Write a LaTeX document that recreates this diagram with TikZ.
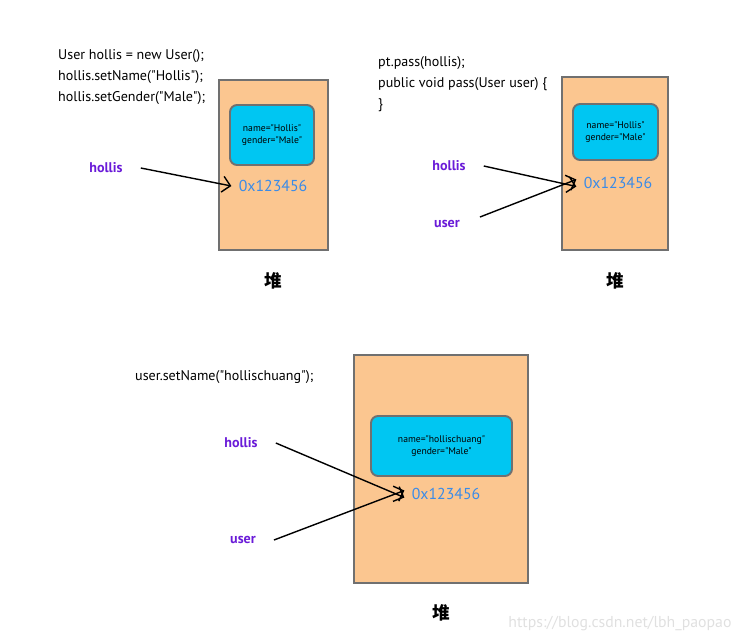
\documentclass[tikz,border=0pt]{standalone}
\usepackage{fontspec}
\setmainfont{PT Sans}[Ligatures=TeXOff]
\newfontfamily\cjk{Noto Sans CJK SC}
\usepackage{xcolor}
\usetikzlibrary{arrows.meta, positioning}

\definecolor{heapfill}{HTML}{FBC690}
\definecolor{objfill}{HTML}{00C6F2}
\definecolor{edgegray}{HTML}{707070}
\definecolor{addrblue}{HTML}{3A8BE8}
\definecolor{refpurple}{HTML}{6A1BD8}

\begin{document}
\begin{tikzpicture}[
    x=0.02cm, y=-0.02cm,
    heapbox/.style={rectangle, draw=edgegray, fill=heapfill, line width=1.1pt},
    objbox/.style={rectangle, draw=edgegray, fill=objfill, line width=1.1pt, rounded corners=4pt, align=center, font=\fontsize{5.5}{7}\selectfont, inner sep=0pt},
    codetext/.style={anchor=west, align=left, font=\fontsize{8}{11.9}\selectfont},
    addr/.style={text=addrblue, font=\fontsize{9}{10}\selectfont, inner sep=1pt},
    refname/.style={text=refpurple, font=\fontsize{8}{10}\selectfont\bfseries},
    heaplabel/.style={font=\cjk\bfseries\fontsize{10}{12}\selectfont},
    arrow/.style={-{Straight Barb[length=1.6mm]}, line width=0.8pt},
]
\useasboundingbox (0,0) rectangle (751,642);

% first step
\node[codetext] (codeA) at (52,77) {User hollis = new User();\\hollis.setName("Hollis");\\hollis.setGender("Male");};
\node[heapbox, minimum width=2.18cm, minimum height=3.4cm] (heapA) at (273.5,165) {};
\node[objbox, minimum width=1.68cm, minimum height=1.2cm] (objA) at (272,135) {name="Hollis"\\gender="Male"};
\node[addr] (addrA) at (273,186) {0x123456};
\node[refname] (hollisA) at (106,168) {hollis};
\node[heaplabel, below=0.3cm of heapA] (heapnameA) {堆};
\draw[arrow] (hollisA.east) ++(12,0) -- ([xshift=-3pt]addrA.west);

% second step
\node[codetext] (codeB) at (372,84) {pt.pass(hollis);\\public void pass(User user) \{\\\}};
\node[heapbox, minimum width=2.12cm, minimum height=3.46cm] (heapB) at (615,163.5) {};
\node[objbox, minimum width=1.7cm, minimum height=1.12cm] (objB) at (615.5,132) {name="Hollis"\\gender="Male"};
\node[addr] (addrB) at (618,183) {0x123456};
\node[refname] (hollisB) at (449,166) {hollis};
\node[refname] (userB) at (447,224) {user};
\node[heaplabel, below=0.3cm of heapB] (heapnameB) {堆};
\draw[arrow] (hollisB.east) ++(12,0) -- ([xshift=-3pt,yshift=-2pt]addrB.west);
\draw[arrow] (userB.east) ++(14,-7) -- ([xshift=-3pt,yshift=2pt]addrB.west);

% third step
\node[codetext] (codeC) at (129,377) {user.setName("hollischuang");};
\node[heapbox, minimum width=3.48cm, minimum height=4.56cm] (heapC) at (441,469) {};
\node[objbox, minimum width=2.82cm, minimum height=1.2cm] (objC) at (441.5,446) {name="hollischuang"\\gender="Male"};
\node[addr] (addrC) at (446,494) {0x123456};
\node[refname] (hollisC) at (241,443) {hollis};
\node[refname] (userC) at (243,540) {user};
\node[heaplabel, below=0.28cm of heapC] (heapnameC) {堆};
\draw[arrow] (hollisC.east) ++(12,0) -- ([xshift=-3pt,yshift=-2pt]addrC.west);
\draw[arrow] (userC.east) ++(12,0) -- ([xshift=-3pt,yshift=2pt]addrC.west);

\node[text=black!12, font=\fontsize{9}{10}\selectfont] (mark) at (620,624) {https://blog.csdn.net/lbh\_paopao};
\end{tikzpicture}
\end{document}
